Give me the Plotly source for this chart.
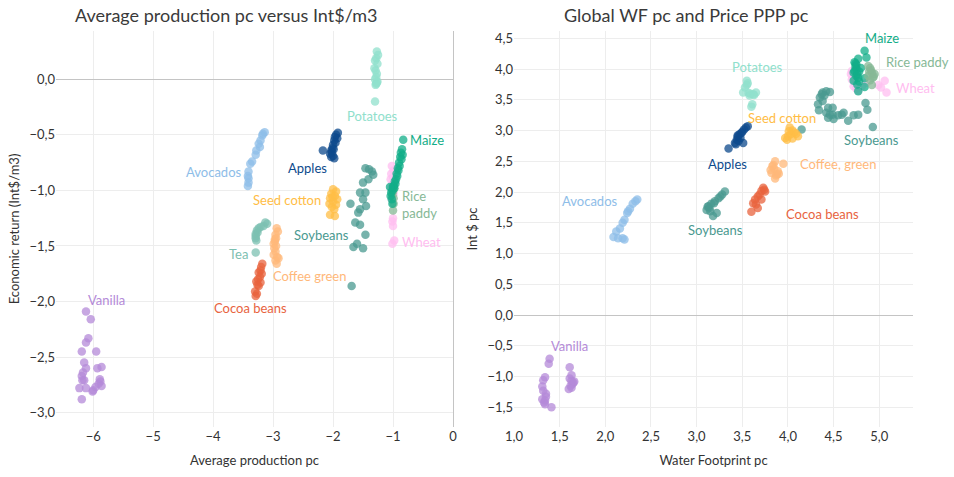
import plotly.graph_objects as go

# ---------------- Left panel: average production pc vs economic return (Int$/m3) ----------------
potatoes_prod = [-1.27, -1.25, -1.28, -1.30, -1.26, -1.31, -1.29, -1.27, -1.28, -1.30, -1.26, -1.28, -1.29, -1.27, -1.30]
potatoes_return = [0.25, 0.22, 0.19, 0.17, 0.14, 0.10, 0.08, 0.05, 0.02, 0.0, -0.02, -0.04, -0.05, -0.03, -0.20]

maize_prod = [-0.83, -0.85, -0.87, -0.84, -0.88, -0.86, -0.90, -0.89, -0.92, -0.91, -0.94, -0.93, -0.95, -0.97,
              -0.96, -0.99, -0.98, -1.01, -1.00, -1.03, -1.04, -1.02, -1.05, -1.01]
maize_return = [-0.545, -0.63, -0.66, -0.68, -0.70, -0.72, -0.75, -0.78, -0.80, -0.82, -0.85, -0.87, -0.90, -0.92,
                -0.94, -0.96, -0.98, -1.00, -0.97, -1.02, -1.05, -1.08, -0.97, -1.12]

rice_prod = [-0.98, -1.00, -0.99, -1.01, -0.99, -1.00]
rice_return = [-0.98, -1.01, -1.07, -1.04, -1.12, -1.18]

wheat_prod = [-1.02, -0.99, -1.03, -1.00, -1.04, -0.98, -1.01, -1.03, -0.99, -1.02, -1.00, -1.01, -1.00, -0.98, -1.01]
wheat_return = [-0.78, -0.82, -0.85, -0.88, -0.90, -0.93, -0.95, -0.98, -1.03, -1.08, -1.25, -1.28, -1.32, -1.45, -1.48]

apples_prod = [-1.92, -1.95, -1.93, -1.97, -1.98, -1.96, -2.00, -2.01, -1.99, -2.03, -2.02, -2.05, -2.00, -2.17, -2.03, -1.98]
apples_return = [-0.48, -0.50, -0.53, -0.52, -0.55, -0.57, -0.59, -0.62, -0.63, -0.64, -0.66, -0.67, -0.69, -0.64, -0.70, -0.71]

soybeans_prod = [-1.46, -1.40, -1.35, -1.33, -1.41, -1.50, -1.55, -1.46, -1.50, -1.45, -1.71, -1.55, -1.58, -1.63,
                 -1.55, -1.46, -1.66, -1.60, -1.50, -1.69]
soybeans_return = [-0.80, -0.81, -0.83, -0.86, -0.90, -0.93, -1.02, -1.02, -1.08, -1.14, -1.12, -1.17, -1.20, -1.29,
                   -1.31, -1.40, -1.51, -1.48, -1.52, -1.86]

cotton_prod = [-2.00, -1.95, -2.03, -1.97, -2.05, -1.93, -2.00, -2.06, -1.95, -2.02, -1.98, -2.05, -1.97, -2.01]
cotton_return = [-0.99, -1.01, -1.03, -1.05, -1.07, -1.08, -1.10, -1.12, -1.13, -1.15, -1.17, -1.22, -1.23, -1.06]

avocados_prod = [-3.14, -3.17, -3.18, -3.21, -3.24, -3.22, -3.28, -3.29, -3.35, -3.38, -3.41, -3.42, -3.41, -3.41, -3.42]
avocados_return = [-0.477, -0.49, -0.506, -0.55, -0.58, -0.61, -0.64, -0.68, -0.74, -0.76, -0.83, -0.87, -0.89, -0.93, -0.96]

tea_prod = [-3.10, -3.13, -3.16, -3.21, -3.24, -3.27, -3.29, -3.26, -3.29, -3.28, -3.29, -3.29]
tea_return = [-1.30, -1.29, -1.32, -1.33, -1.34, -1.36, -1.39, -1.38, -1.43, -1.45, -1.41, -1.56]

coffee_prod = [-2.94, -2.92, -2.96, -2.95, -2.97, -2.99, -2.95, -2.98, -2.96, -2.99, -2.93, -2.96, -2.94, -2.91, -2.97]
coffee_return = [-1.34, -1.37, -1.40, -1.43, -1.46, -1.48, -1.50, -1.52, -1.55, -1.58, -1.60, -1.63, -1.66, -1.61, -1.44]

cocoa_prod = [-3.18, -3.20, -3.21, -3.24, -3.19, -3.22, -3.25, -3.28, -3.21, -3.26, -3.24, -3.30, -3.27, -3.29]
cocoa_return = [-1.66, -1.69, -1.72, -1.74, -1.75, -1.78, -1.80, -1.82, -1.83, -1.85, -1.86, -1.91, -1.93, -1.95]

vanilla_prod = [-6.12, -6.04, -6.08, -6.12, -6.19, -5.95, -6.15, -6.12, -5.93, -5.86, -6.19, -6.17, -6.18, -6.15,
                -5.89, -5.88, -5.91, -6.23, -6.12, -6.00, -6.01, -5.96, -5.86, -6.19]
vanilla_return = [-2.09, -2.16, -2.33, -2.37, -2.45, -2.45, -2.55, -2.60, -2.60, -2.59, -2.67, -2.64, -2.71, -2.71,
                  -2.70, -2.72, -2.74, -2.78, -2.78, -2.80, -2.81, -2.77, -2.76, -2.88]

# ---------------- Right panel: water footprint pc vs price PPP pc ----------------
potatoes_wf = [3.55, 3.55, 3.53, 3.51, 3.57, 3.62, 3.65, 3.58, 3.61, 3.60, 3.56, 3.59, 3.63]
potatoes_price = [3.81, 3.74, 3.70, 3.62, 3.61, 3.59, 3.62, 3.57, 3.43, 3.39, 3.77, 3.60, 3.58]

maize_wf = [4.84, 4.77, 4.86, 4.73, 4.75, 4.73, 4.78, 4.75, 4.72, 4.84, 4.77, 4.84, 4.75, 4.77, 4.74, 4.76, 4.80, 4.72,
            4.78, 4.76, 4.74]
maize_price = [4.30, 4.17, 4.19, 4.11, 4.07, 3.97, 3.96, 3.89, 3.81, 3.85, 3.64, 3.71, 4.00, 3.86, 4.04, 3.92, 4.02,
               3.94, 3.80, 3.75, 4.09]

rice_wf = [4.88, 4.90, 4.92, 4.88, 4.93, 4.92, 4.91, 4.95, 4.89, 4.94, 4.90]
rice_price = [4.05, 4.02, 3.94, 3.89, 3.86, 3.74, 3.98, 3.92, 3.96, 3.88, 3.82]

wheat_wf = [4.70, 4.70, 4.72, 4.75, 4.77, 4.86, 4.99, 5.02, 5.06, 5.08, 4.72, 4.69, 4.74, 4.81]
wheat_price = [3.97, 3.83, 3.72, 3.68, 3.65, 3.78, 3.74, 3.70, 3.81, 3.62, 3.87, 3.92, 3.76, 3.72]

apples_wf = [3.56, 3.54, 3.52, 3.50, 3.47, 3.45, 3.44, 3.42, 3.51, 3.46, 3.48, 3.43, 3.35, 3.49, 3.45]
apples_price = [3.07, 3.05, 3.02, 2.98, 2.94, 2.90, 2.85, 2.80, 2.80, 2.83, 2.88, 2.78, 2.71, 2.96, 2.92]

soybeans_wf = [4.42, 4.46, 4.38, 4.37, 4.40, 4.35, 4.38, 4.33, 4.44, 4.49, 4.34, 4.42, 4.46, 4.49, 4.55, 4.59,
               4.61, 4.44, 4.50, 4.66, 4.72, 4.77, 4.85, 4.87, 4.93, 4.15]
soybeans_price = [3.64, 3.63, 3.62, 3.59, 3.57, 3.54, 3.48, 3.43, 3.37, 3.37, 3.33, 3.29, 3.26, 3.26, 3.25, 3.26,
                  3.29, 3.21, 3.19, 3.16, 3.25, 3.26, 3.45, 3.34, 3.06, 3.02]

soy_low_wf = [3.31, 3.28, 3.24, 3.20, 3.16, 3.13, 3.11, 3.15, 3.18, 3.22, 3.26, 3.14, 3.12, 3.19]
soy_low_price = [2.01, 1.96, 1.90, 1.85, 1.81, 1.77, 1.71, 1.69, 1.61, 1.66, 1.93, 1.74, 1.76, 1.82]

cotton_wf = [4.02, 4.05, 4.00, 3.99, 4.11, 4.07, 4.03, 3.97, 4.05, 4.09, 4.01]
cotton_price = [3.05, 3.00, 2.91, 2.85, 2.91, 2.97, 2.94, 2.88, 2.87, 2.95, 2.99]

coffee_wf = [3.86, 3.95, 3.83, 3.82, 3.87, 3.85, 3.89, 3.84, 3.88, 3.81, 3.86, 3.90]
coffee_price = [2.50, 2.46, 2.42, 2.31, 2.27, 2.38, 2.34, 2.44, 2.29, 2.36, 2.22, 2.30]

cocoa_wf = [3.73, 3.71, 3.75, 3.67, 3.64, 3.62, 3.65, 3.71, 3.67, 3.60, 3.69, 3.74]
cocoa_price = [2.07, 2.02, 2.01, 1.93, 1.88, 1.82, 1.80, 1.88, 1.74, 1.68, 1.96, 2.04]

avocados_wf = [2.35, 2.30, 2.25, 2.24, 2.21, 2.19, 2.16, 2.12, 2.09, 2.14, 2.19, 2.21, 2.33, 2.27]
avocados_price = [1.88, 1.81, 1.69, 1.66, 1.55, 1.50, 1.41, 1.36, 1.27, 1.25, 1.25, 1.23, 1.85, 1.73]

vanilla_wf = [1.39, 1.38, 1.34, 1.32, 1.31, 1.32, 1.35, 1.31, 1.34, 1.34, 1.41, 1.61, 1.63, 1.61, 1.63, 1.65, 1.60,
              1.63, 1.64, 1.62, 1.66, 1.33, 1.35]
vanilla_price = [-0.71, -0.79, -1.01, -1.06, -1.16, -1.23, -1.28, -1.37, -1.39, -1.45, -1.50, -0.85, -0.98, -1.03,
                 -1.07, -1.10, -1.20, -1.18, -1.12, -1.15, -1.08, -1.42, -1.33]

# Crop colours
COL = {
    "Potatoes": "#90e0cc", "Maize": "#12ad88", "Rice paddy": "#86b896", "Wheat": "#ffbdf0",
    "Apples": "#0d4a8c", "Soybeans": "#4a9990", "Seed cotton": "#ffbd45", "Avocados": "#8ebde8",
    "Tea": "#7cc0b1", "Coffee green": "#ffb87a", "Cocoa beans": "#e8633e", "Vanilla": "#b48ad8",
}

left_series = [
    ("Wheat", wheat_prod, wheat_return), ("Rice paddy", rice_prod, rice_return),
    ("Potatoes", potatoes_prod, potatoes_return), ("Soybeans", soybeans_prod, soybeans_return),
    ("Seed cotton", cotton_prod, cotton_return), ("Apples", apples_prod, apples_return),
    ("Avocados", avocados_prod, avocados_return), ("Tea", tea_prod, tea_return),
    ("Coffee green", coffee_prod, coffee_return), ("Cocoa beans", cocoa_prod, cocoa_return),
    ("Vanilla", vanilla_prod, vanilla_return), ("Maize", maize_prod, maize_return),
]
right_series = [
    ("Wheat", wheat_wf, wheat_price), ("Potatoes", potatoes_wf, potatoes_price),
    ("Soybeans", soybeans_wf, soybeans_price), ("Soybeans", soy_low_wf, soy_low_price),
    ("Seed cotton", cotton_wf, cotton_price), ("Apples", apples_wf, apples_price),
    ("Coffee green", coffee_wf, coffee_price), ("Cocoa beans", cocoa_wf, cocoa_price),
    ("Avocados", avocados_wf, avocados_price), ("Vanilla", vanilla_wf, vanilla_price),
    ("Maize", maize_wf, maize_price), ("Rice paddy", rice_wf, rice_price),
]

# Text labels: (text, colour key, x, y, anchor)
left_labels = [
    ("Potatoes", "Potatoes", -1.34, -0.33, "center"), ("Maize", "Maize", -0.75, -0.55, "left"),
    ("Avocados", "Avocados", -4.0, -0.83, "center"), ("Apples", "Apples", -2.42, -0.80, "center"),
    ("Seed cotton", "Seed cotton", -2.77, -1.09, "center"), ("Rice<br>paddy", "Rice paddy", -0.88, -1.13, "left"),
    ("Soybeans", "Soybeans", -2.2, -1.40, "center"), ("Wheat", "Wheat", -0.89, -1.46, "left"),
    ("Tea", "Tea", -3.58, -1.57, "center"), ("Coffee green", "Coffee green", -2.40, -1.77, "center"),
    ("Vanilla", "Vanilla", -5.78, -1.99, "center"), ("Cocoa beans", "Cocoa beans", -3.38, -2.06, "center"),
]
right_labels = [
    ("Maize", "Maize", 5.03, 4.51, "center"), ("Rice paddy", "Rice paddy", 5.05, 4.11, "left"),
    ("Wheat", "Wheat", 5.16, 3.70, "left"), ("Potatoes", "Potatoes", 3.67, 4.03, "center"),
    ("Seed cotton", "Seed cotton", 3.94, 3.20, "center"), ("Soybeans", "Soybeans", 4.91, 2.85, "center"),
    ("Apples", "Apples", 3.34, 2.46, "center"), ("Coffee, green", "Coffee green", 4.55, 2.45, "center"),
    ("Avocados", "Avocados", 1.83, 1.85, "center"), ("Cocoa beans", "Cocoa beans", 4.38, 1.64, "center"),
    ("Soybeans", "Soybeans", 3.21, 1.38, "center"), ("Vanilla", "Vanilla", 1.61, -0.50, "center"),
]

FONT = "Lato"
W, H = 954, 477
ML, MR, MT, MB = 56, 41, 31, 50
PW, PH = W - ML - MR, H - MT - MB

fig = go.Figure()

for name, xs, ys in left_series:
    fig.add_trace(go.Scatter(x=xs, y=ys, mode="markers", name=name, xaxis="x", yaxis="y",
                             marker=dict(size=8.5, color=COL[name], opacity=0.75, line=dict(width=0)),
                             showlegend=False))
for name, xs, ys in right_series:
    fig.add_trace(go.Scatter(x=xs, y=ys, mode="markers", name=name, xaxis="x2", yaxis="y2",
                             marker=dict(size=8.5, color=COL[name], opacity=0.75, line=dict(width=0)),
                             showlegend=False))

annotations = []
for text, key, x, y, anchor in left_labels:
    annotations.append(dict(text=text, x=x, y=y, xref="x", yref="y", showarrow=False, xanchor=anchor,
                            align="left", font=dict(size=13, color=COL[key], family=FONT)))
for text, key, x, y, anchor in right_labels:
    annotations.append(dict(text=text, x=x, y=y, xref="x2", yref="y2", showarrow=False, xanchor=anchor,
                            align="left", font=dict(size=13, color=COL[key], family=FONT)))

# Panel titles, placed by pixel centre and converted to paper fractions
for text, cx, cy in [("Average production pc versus Int$/m3", 226, 15),
                     ("Global WF pc and Price PPP pc", 686, 15)]:
    annotations.append(dict(text=text, x=(cx - ML) / PW, y=(H - MB - cy) / PH, xref="paper", yref="paper",
                            xanchor="center", yanchor="middle", showarrow=False,
                            font=dict(size=18, color="#3a3a3a", family=FONT)))

axis_common = dict(showgrid=True, gridcolor="#ededed", gridwidth=1, zeroline=True, zerolinecolor="#c4c4c4",
                   zerolinewidth=1, showline=False, ticks="", tickfont=dict(size=13, color="#333333", family=FONT),
                   title_font=dict(size=13, color="#333333", family=FONT))

fig.update_layout(
    width=W, height=H, autosize=False,
    margin=dict(l=ML, r=MR, t=MT, b=MB),
    paper_bgcolor="white", plot_bgcolor="white",
    separators=", ",
    font=dict(family=FONT, color="#333333"),
    xaxis=dict(domain=[0, 397 / PW], range=[-6.62, 0.0], dtick=1, anchor="y",
               title=dict(text="Average production pc", standoff=12), **axis_common),
    yaxis=dict(domain=[0, 1], range=[-3.13, 0.435], dtick=0.5, tickformat=".1f", anchor="x",
               title=dict(text="Economic return (Int$/m3)", standoff=6), **axis_common),
    xaxis2=dict(domain=[458 / PW, 1], range=[1.0, 5.37], dtick=0.5, tickformat=".1f", anchor="y2",
                title=dict(text="Water Footprint pc", standoff=12), **axis_common),
    yaxis2=dict(domain=[0, 1], range=[-1.82, 4.62], dtick=0.5, tickformat=".1f", anchor="x2",
                title=dict(text="Int $ pc", standoff=6), **axis_common),
    annotations=annotations,
)

fig.write_html("out.html")
